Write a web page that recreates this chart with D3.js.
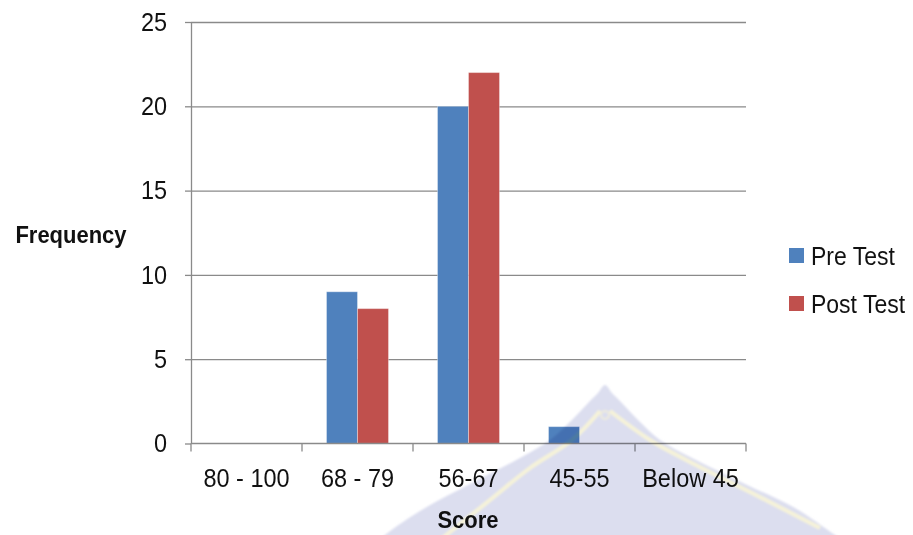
<!DOCTYPE html>
<html>
<head>
<meta charset="utf-8">
<script src="https://cdn.jsdelivr.net/npm/d3@7"></script>
<style>
  html, body { margin: 0; padding: 0; background: #ffffff; }
  svg { display: block; }
  svg text {
    font-family: "Liberation Sans", Arial, sans-serif;
    fill: #111111;
    transform-box: fill-box;
    transform-origin: center;
    transform: scaleY(1.1);
  }
</style>
</head>
<body>
<svg id="chart" width="913" height="535">
  <defs>
    <filter id="soft" x="-5%" y="-5%" width="110%" height="110%">
      <feGaussianBlur stdDeviation="1.2"/>
    </filter>
  </defs>
</svg>
<script>
// Score bands and frequencies for the two tests
const categories = ["80 - 100", "68 - 79", "56-67", "45-55", "Below 45"];
const seriesNames = ["Pre Test", "Post Test"];
const preTest = [0, 9, 20, 1, 0];
const postTest = [0, 8, 22, 0, 0];
const yTicks = [0, 5, 10, 15, 20, 25];
const seriesColors = ["#4F81BD", "#C0504D"];

const svg = d3.select("#chart");
const plot = { left: 191, right: 746, top: 22, bottom: 443.5 };

const x0 = d3.scaleBand()
  .domain(categories)
  .range([plot.left, plot.right])
  .paddingInner(0)
  .paddingOuter(0);

const x1 = d3.scaleBand()
  .domain(seriesNames)
  .range([0, x0.bandwidth()])
  .paddingInner(0)
  .paddingOuter(0.79);

const y = d3.scaleLinear()
  .domain([0, 25])
  .range([plot.bottom, plot.top]);

const axisColor = "#8a8a8a";

// Horizontal gridlines
const grid = svg.append("g")
  .attr("transform", `translate(${plot.left},0)`)
  .call(d3.axisLeft(y).tickValues(yTicks.slice(1)).tickSize(-(plot.right - plot.left)).tickFormat(""));
grid.select(".domain").remove();
grid.selectAll("line").attr("stroke", axisColor).attr("stroke-width", 1.3);

// Bars
const rows = categories.map((c, i) => ({ cat: c, values: [preTest[i], postTest[i]] }));
svg.append("g")
  .selectAll("g")
  .data(rows)
  .join("g")
  .attr("transform", d => `translate(${x0(d.cat)},0)`)
  .selectAll("rect")
  .data(d => d.values.map((v, k) => ({ name: seriesNames[k], value: v, k })))
  .join("rect")
  .filter(d => d.value > 0)
  .attr("x", d => x1(d.name))
  .attr("width", x1.bandwidth())
  .attr("y", d => y(d.value))
  .attr("height", d => y(0) - y(d.value))
  .attr("fill", d => seriesColors[d.k])
  .attr("stroke", "rgba(255,255,255,0.35)")
  .attr("stroke-width", 1);

// Y axis
const yAxis = svg.append("g")
  .attr("transform", `translate(${plot.left},0)`)
  .call(d3.axisLeft(y).tickValues(yTicks).tickSize(6).tickPadding(18).tickSizeOuter(0));
yAxis.select(".domain").attr("stroke", axisColor).attr("stroke-width", 1.3);
yAxis.selectAll(".tick line").attr("stroke", axisColor).attr("stroke-width", 1.3);
yAxis.selectAll("text").style("font-size", "23.5px").attr("fill", "#111");

// X axis: boundary ticks between bands
const boundaries = categories.map(c => x0(c)).concat([x0.range()[1]]);
const xLine = svg.append("g").attr("transform", `translate(0,${plot.bottom})`);
xLine.append("line")
  .attr("x1", plot.left).attr("x2", plot.right)
  .attr("stroke", axisColor).attr("stroke-width", 1.3);
xLine.selectAll("line.b")
  .data(boundaries)
  .join("line")
  .attr("class", "b")
  .attr("x1", d => d).attr("x2", d => d)
  .attr("y1", 0).attr("y2", 8)
  .attr("stroke", axisColor).attr("stroke-width", 1.3);

// X axis labels centred in each band
const xAxis = svg.append("g")
  .attr("transform", `translate(0,${plot.bottom})`)
  .call(d3.axisBottom(x0).tickSize(0).tickPadding(26));
xAxis.select(".domain").remove();
xAxis.selectAll("text").style("font-size", "23.5px").attr("fill", "#111");

// Axis titles
svg.append("text")
  .attr("x", 71).attr("y", 242)
  .attr("text-anchor", "middle")
  .style("font-size", "22px").style("font-weight", "bold")
  .text("Frequency");

svg.append("text")
  .attr("x", (plot.left + plot.right) / 2 - 0.5).attr("y", 527)
  .attr("text-anchor", "middle")
  .style("font-size", "22px").style("font-weight", "bold")
  .text("Score");

// Legend
const legend = svg.append("g");
seriesNames.forEach((name, i) => {
  const gy = 248 + i * 48;
  legend.append("rect")
    .attr("x", 789).attr("y", gy)
    .attr("width", 15).attr("height", 15)
    .attr("fill", seriesColors[i]);
  legend.append("text")
    .attr("x", 811).attr("y", gy + 16)
    .style("font-size", "23px")
    .text(name);
});

// Faint spire-shaped emblem across the lower part of the page
const emblem = svg.append("g")
  .style("mix-blend-mode", "multiply")
  .attr("pointer-events", "none");
const shape = emblem.append("g").attr("filter", "url(#soft)");
const curve = d3.line().curve(d3.curveCatmullRom);
shape.append("path")
  .attr("d", curve([
    [375, 545], [385, 535], [425, 508], [470, 484], [520, 458], [550, 440], [572, 420],
    [590, 401], [598, 393], [605, 385], [612, 393], [620, 401], [638, 420], [660, 440],
    [692, 458], [745, 484], [795, 508], [835, 535], [850, 545]
  ]) + "Z")
  .attr("fill", "#dcdeef");
shape.append("path")
  .attr("d", curve([[440, 540], [490, 500], [530, 468], [572, 440], [600, 411]]))
  .attr("fill", "none").attr("stroke", "#f6f3d8").attr("stroke-width", 4);
shape.append("path")
  .attr("d", curve([[610, 411], [650, 440], [690, 462], [750, 492], [820, 528]]))
  .attr("fill", "none").attr("stroke", "#f6f3d8").attr("stroke-width", 4);
shape.append("circle").attr("cx", 605).attr("cy", 415).attr("r", 4)
  .attr("fill", "none").attr("stroke", "#eeebdc").attr("stroke-width", 2);
</script>
</body>
</html>
